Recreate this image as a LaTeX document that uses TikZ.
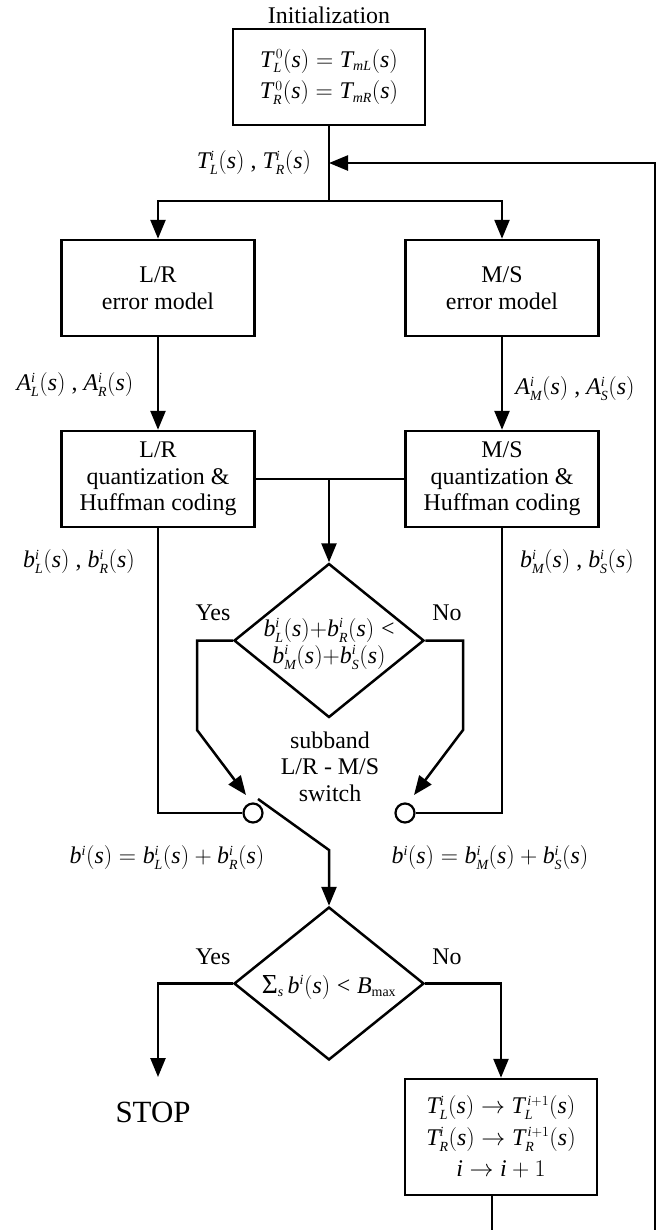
\documentclass[tikz,border=0pt]{standalone}
\RequirePackage{fix-cm}
\usepackage{fontspec}
\setmainfont{Liberation Serif}
\usepackage[italic]{mathastext}
\DeclareMathSizes{24}{24}{14}{10}
\usetikzlibrary{arrows.meta,shapes.geometric}
\newcommand{\bigsig}{\mathord{\textup{\scalebox{1.15}{Σ}}}}
\begin{document}
\begin{tikzpicture}[x=1bp,y=-1bp,
  conn/.style={line width=2.5bp},
  arr/.style={conn,-{Triangle[length=19bp,width=15bp]}},
  txt/.style={font=\fontsize{24}{25}\selectfont, align=center, inner sep=0pt},
  box/.style={draw, conn, minimum width=193bp, inner sep=0pt, align=center},
  dia/.style={diamond, draw, conn, minimum width=190bp, minimum height=154bp, inner sep=0pt},
  sw/.style={circle, draw, line width=2.2bp, minimum size=19bp, inner sep=0pt}
]
\useasboundingbox (0,0) rectangle (671,1230);

% initialization
\node[txt] (initlbl) at (329,15) {Initialization};
\node[box, minimum width=192bp, minimum height=96bp, font=\fontsize{24}{32}\selectfont] (init) at (329,77)
  {$T_L^{\,0}(s) = T_{mL}(s)$\\$T_R^{\,0}(s) = T_{mR}(s)$};

\node[txt] (tlbl) at (254,163) {$T_L^i(s)$ , $T_R^i(s)$};
\coordinate (fbin) at (329,163);
\coordinate (split) at (329,201);

% error models
\node[box, minimum height=96bp, font=\fontsize{24}{27}\selectfont] (lrerr) at (158,288) {L/R\\error model};
\node[box, minimum height=96bp, font=\fontsize{24}{27}\selectfont] (mserr) at (502,288) {M/S\\error model};

\node[txt] (alr) at (75,385) {$A_L^i(s)$ , $A_R^i(s)$};
\node[txt] (ams) at (575,389) {$A_M^i(s)$ , $A_S^i(s)$};

% quantization
\node[box, minimum height=96bp, font=\fontsize{24}{26.5}\selectfont] (lrq) at (158,479) {L/R\\quantization \&\\Huffman coding};
\node[box, minimum height=96bp, font=\fontsize{24}{26.5}\selectfont] (msq) at (502,479) {M/S\\quantization \&\\Huffman coding};
\coordinate (junc) at (329,479);

\node[txt] (blr) at (79,562) {$b_L^i(s)$ , $b_R^i(s)$};
\node[txt] (bms) at (577,562) {$b_M^i(s)$ , $b_S^i(s)$};

% decision 1
\node[dia] (dia1) at (329,640.5) {};
\node[txt, font=\fontsize{24}{27}\selectfont] (dia1t) at (329,644)
  {$b_L^i(s){+}b_R^i(s) <$\\$b_M^i(s){+}b_S^i(s)$};
\node[txt] (yes1) at (213,613) {Yes};
\node[txt] (no1) at (447,613) {No};
\coordinate (y1a) at (197,640.5);
\coordinate (y1b) at (197,730);
\coordinate (n1a) at (463,640.5);
\coordinate (n1b) at (463,730);
\coordinate (y1tip) at (246,795);
\coordinate (n1tip) at (414,795);

\node[txt, font=\fontsize{24}{26.5}\selectfont] (swtxt) at (330,766.5) {subband\\L/R - M/S\\switch};

% switch
\node[sw] (swl) at (253,813) {};
\node[sw] (swr) at (405,813) {};
\coordinate (lrdn) at (158,813);
\coordinate (msdn) at (502,813);
\coordinate (lev0) at (258,799);
\coordinate (lev1) at (329,850);

\node[txt] (bsumL) at (167,858) {$b^i(s) = b_L^i(s) + b_R^i(s)$};
\node[txt] (bsumR) at (490,858) {$b^i(s) = b_M^i(s) + b_S^i(s)$};

% decision 2
\node[dia, minimum height=153bp] (dia2) at (329,983.5) {};
\node[txt] (dia2t) at (329,987) {$\bigsig_s\, b^i(s) < B_{\mathrm{max}}$};
\node[txt] (yes2) at (213,957) {Yes};
\node[txt] (no2) at (447,957) {No};
\coordinate (y2a) at (158,983.5);
\coordinate (stoptip) at (158,1077);
\node[inner sep=0pt, font=\fontsize{31}{31}\selectfont] (stop) at (153,1112) {STOP};

% update box
\node[box, minimum width=192bp, minimum height=116bp, font=\fontsize{24}{31.5}\selectfont] (upd) at (501,1137)
  {$T_L^i(s) \to T_L^{\,i+1}(s)$\\$T_R^i(s) \to T_R^{\,i+1}(s)$\\$i \to i+1$};
\coordinate (updout) at (492,1195);
\coordinate (bot) at (492,1230);
\coordinate (fbbot) at (655,1230);
\coordinate (fbtop) at (655,163);

% connectors
\draw[conn] (init.south) -- (split);
\draw[arr] (split) -| (lrerr.north);
\draw[arr] (split) -| (mserr.north);
\draw[arr] (fbbot) -- (fbtop) -- (fbin);
\draw[arr] (lrerr.south) -- (lrq.north);
\draw[arr] (mserr.south) -- (msq.north);
\draw[conn] (lrq.east) -- (msq.west);
\draw[arr] (junc) -- (dia1.north);
\draw[arr] (dia1.west) -- (y1a) -- (y1b) -- (y1tip);
\draw[arr] (dia1.east) -- (n1a) -- (n1b) -- (n1tip);
\draw[conn] (lrq.south) -- (lrdn) -- (swl.west);
\draw[conn] (msq.south) -- (msdn) -- (swr.east);
\draw[arr] (lev0) -- (lev1) -- (dia2.north);
\draw[arr] (dia2.west) -- (y2a) -- (stoptip);
\draw[arr] (dia2.east) -| (upd.north);
\draw[conn] (updout) -- (bot);
\end{tikzpicture}
\end{document}
